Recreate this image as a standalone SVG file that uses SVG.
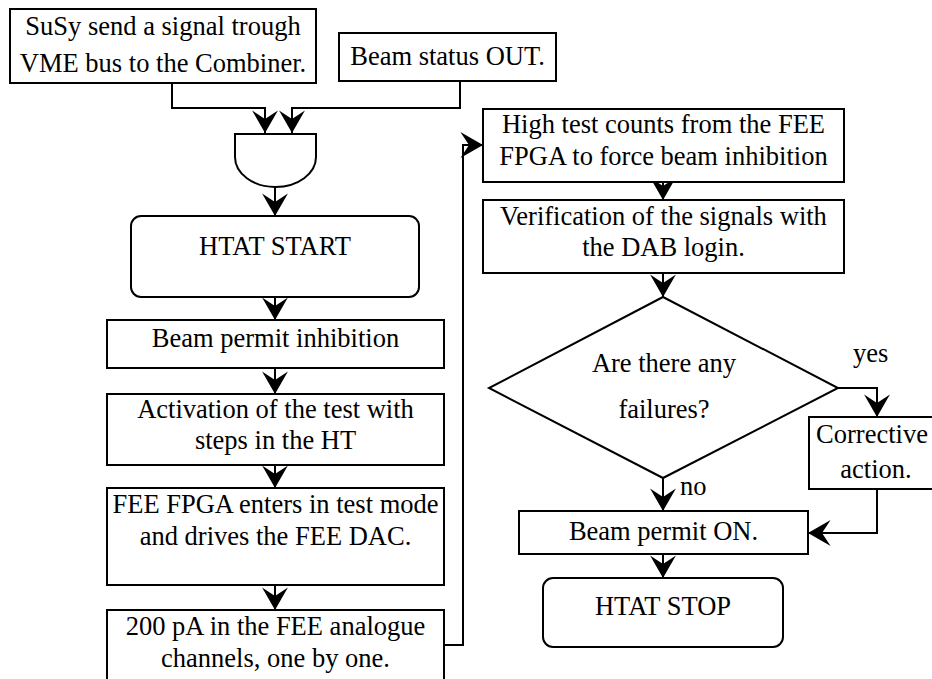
<svg xmlns="http://www.w3.org/2000/svg" width="932" height="679" viewBox="0 0 932 679">
<defs>
<marker id="ah" markerUnits="userSpaceOnUse" markerWidth="26" markerHeight="28" viewBox="-23 -13 24 26" refX="0" refY="0" orient="auto">
<path d="M0,0 L-21,-12 L-13,0 L-21,12 Z" fill="#000"/>
</marker>
<style>
.b{fill:#fff;stroke:#000;stroke-width:2}
.c{fill:none;stroke:#000;stroke-width:2;marker-end:url(#ah)}
.t{font-family:'Liberation Serif','Tinos','Times New Roman','DejaVu Serif',serif;font-size:26.5px;fill:#000;text-anchor:middle}
.s{text-anchor:start}
</style>
</defs>
<rect width="932" height="679" fill="#fff"/>
<g id="connectors">
<path class="c" d="M172,83 V108 H265 V133"/>
<path class="c" d="M460,81 V108 H292 V133"/>
<path class="c" d="M275,187 V216"/>
<path class="c" d="M275,297 V320"/>
<path class="c" d="M275,368 V394"/>
<path class="c" d="M275,465 V488"/>
<path class="c" d="M275,585 V610"/>
<path class="c" d="M444,645 H463 V145 H483"/>
<path class="c" d="M663,182 V200"/>
<path class="c" d="M663,273 V297"/>
<path class="c" d="M663,478 V511"/>
<path class="c" d="M838,388 H877 V417"/>
<path class="c" d="M877,489 V533 H808"/>
<path class="c" d="M663,554 V578"/>
<text class="t s" x="680" y="495" font-family="Liberation Serif, serif">no</text>
<text class="t s" x="853" y="362" font-family="Liberation Serif, serif">yes</text>
</g>
<g id="susy"><rect class="b" x="10" y="9" width="306" height="74"/><text class="t" x="163" y="35">SuSy send a signal trough</text><text class="t" x="163" y="72">VME bus to the Combiner.</text></g>
<g id="beamstatus"><rect class="b" x="339" y="33" width="217" height="48"/><text class="t" x="447.5" y="65">Beam status OUT.</text></g>
<g id="and"><path class="b" d="M235,134 H316 V157 A40.5,30 0 0 1 235,157 Z"/></g>
<g id="start"><rect class="b" x="131" y="216" width="288" height="81" rx="10"/><text class="t" x="275" y="255">HTAT START</text></g>
<g id="inhib"><rect class="b" x="107" y="320" width="337" height="48"/><text class="t" x="275.5" y="347">Beam permit inhibition</text></g>
<g id="activ"><rect class="b" x="107" y="394" width="337" height="71"/><text class="t" x="275.5" y="418">Activation of the test with</text><text class="t" x="275.5" y="449">steps in the HT</text></g>
<g id="fpga"><rect class="b" x="107" y="488" width="337" height="97"/><text class="t" x="275.5" y="513">FEE FPGA enters in test mode</text><text class="t" x="275.5" y="545">and drives the FEE DAC.</text></g>
<g id="pa"><rect class="b" x="107" y="610" width="337" height="80"/><text class="t" x="275.5" y="635">200 pA in the FEE analogue</text><text class="t" x="275.5" y="667">channels, one by one.</text></g>
<g id="high"><rect class="b" x="483" y="109" width="361" height="73"/><text class="t" x="663.5" y="133">High test counts from the FEE</text><text class="t" x="663.5" y="165">FPGA to force beam inhibition</text></g>
<g id="verif"><rect class="b" x="483" y="200" width="361" height="73"/><text class="t" x="663.5" y="225">Verification of the signals with</text><text class="t" x="663.5" y="256">the DAB login.</text></g>
<g id="decision"><path class="b" d="M663,297 L838,388 L663,478 L489,388 Z"/><text class="t" x="664" y="372">Are there any</text><text class="t" x="664" y="418">failures?</text></g>
<g id="corrective"><rect class="b" x="809" y="417" width="140" height="72"/><text class="t" x="872" y="443">Corrective</text><text class="t" x="876" y="478">action.</text></g>
<g id="permiton"><rect class="b" x="519" y="511" width="289" height="43"/><text class="t" x="663.5" y="540">Beam permit ON.</text></g>
<g id="stop"><rect class="b" x="543" y="578" width="240" height="69" rx="10"/><text class="t" x="663" y="615">HTAT STOP</text></g>
</svg>
